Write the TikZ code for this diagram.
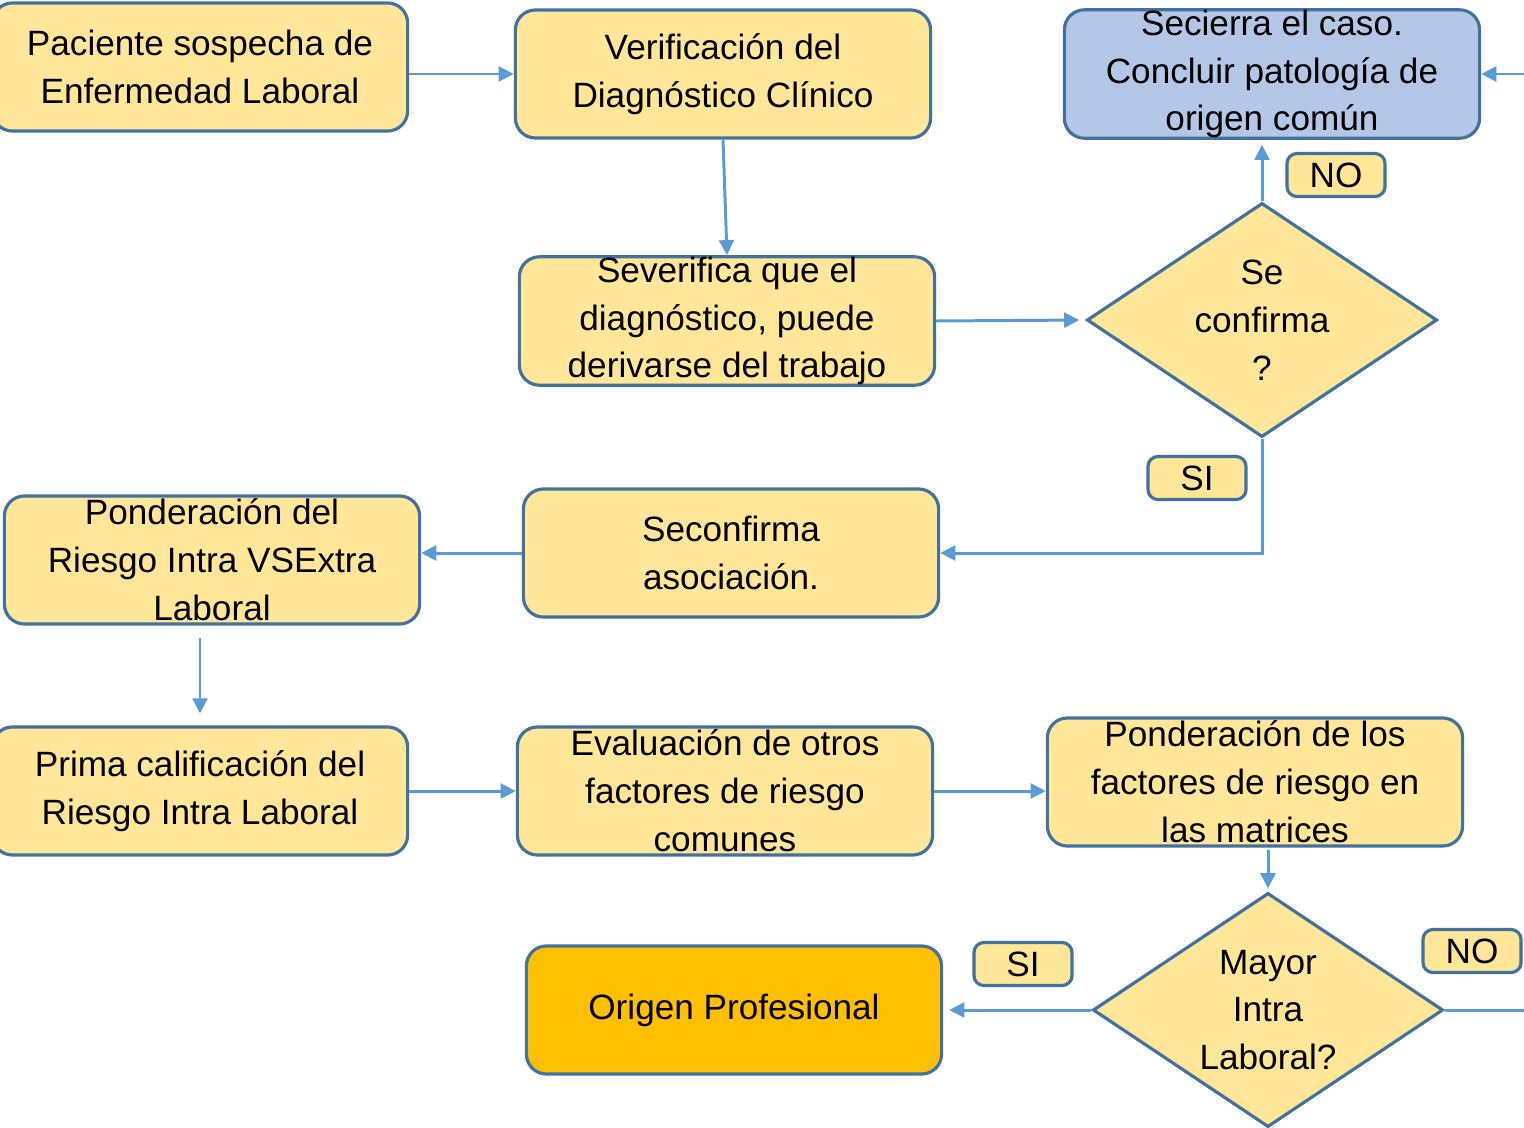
\documentclass[tikz,border=0pt]{standalone}
\usepackage{fontspec}
\setmainfont{Liberation Sans}
\usetikzlibrary{shapes.geometric}
\usetikzlibrary{positioning}
\usetikzlibrary{arrows.meta}

\definecolor{boxfill}{HTML}{FFE699}
\definecolor{boxline}{HTML}{41719C}
\definecolor{bluefill}{HTML}{B4C7E7}
\definecolor{orangefill}{HTML}{FFC000}
\definecolor{flowline}{HTML}{5B9BD5}

\begin{document}
\begin{tikzpicture}[x=0.01cm, y=-0.01cm, ->,
            >={Triangle[length=4.3pt,width=4.2pt]},
            every node/.style = {font=\fontsize{10}{13.6}\selectfont},
            box/.style = {-,draw=boxline,line width=0.9pt,fill=boxfill,
                rounded corners=2mm,align=center,inner sep=0pt,
                minimum width=4.15cm,minimum height=1.28cm},
            question/.style = {-,diamond,aspect=1.5,draw=boxline,line width=0.9pt,
                fill=boxfill,align=center,inner sep=0pt,
                minimum width=3.5cm,minimum height=2.34cm},
            tag/.style = {-,draw=boxline,line width=0.9pt,fill=boxfill,
                rounded corners=1mm,inner sep=0pt,
                minimum width=0.98cm,minimum height=0.43cm},
            flow/.style = {draw=flowline,line width=0.85pt},
            every edge/.style = {flow}]
            \useasboundingbox (0,0) rectangle (1524,1127);
            % first row
            \node[box](paciente) at (200,67) {Paciente sospecha de\\Enfermedad Laboral};
            \node[box](verif) at (723,74) {Verificación del\\Diagnóstico Clínico};
            \node[box, fill=bluefill](cierra) at (1272,74) {Secierra el caso.\\Concluir patología de\\origen común};
            % second row
            \node[box](deriva) at (727,321) {Severifica que el\\diagnóstico, puede\\derivarse del trabajo};
            \node[question](confirma) at (1262,320) {Se\\confirma\\?};
            \node[tag](no1) at (1336,175) {NO};
            \node[tag](si1) at (1197,478) {SI};
            % third row
            \node[box](asoc) at (731,553) {Seconfirma\\asociación.};
            \node[box](riesgo) at (212,560) {Ponderación del\\Riesgo Intra VSExtra\\Laboral};
            % fourth row
            \node[box](prima) at (200,791) {Prima calificación del\\Riesgo Intra Laboral};
            \node[box](otros) at (725,791) {Evaluación de otros\\factores de riesgo\\comunes};
            \node[box](matrices) at (1255,782) {Ponderación de los\\factores de riesgo en\\las matrices};
            % last row
            \node[question](mayor) at (1268,1010) {Mayor\\Intra\\Laboral?};
            \node[box, fill=orangefill](origen) at (734,1010) {Origen Profesional};
            \node[tag](si2) at (1023,964) {SI};
            \node[tag](no2) at (1472,951) {NO};
            \coordinate (rightin) at (1524,74);
            \coordinate (rightout) at (1524,1010);
            \path[]
                (paciente.east |- verif.west) edge (verif.west)
                (verif.south) edge (deriva.north)
                (deriva.east) edge[shorten >=0.6mm] (confirma.west)
                (confirma.north) edge[shorten >=0.5mm] (cierra.south -| confirma.north)
                (rightin) edge (cierra.east)
                (asoc.west) edge (riesgo.east |- asoc.west)
                (riesgo.south -| prima.north) edge[shorten <=1.2mm, shorten >=1.2mm] (prima.north)
                (prima.east) edge (otros.west)
                (otros.east) edge (matrices.west |- otros.east)
                (matrices.south -| mayor.north) edge[shorten <=0.2mm, shorten >=0.3mm] (mayor.north)
                (mayor.west) edge[shorten >=0.6mm] (origen.east);
            \draw[flow] (confirma.south) |- (asoc.east);
            \draw[flow, -] (mayor.east) -- (rightout);
        \end{tikzpicture}
\end{document}
